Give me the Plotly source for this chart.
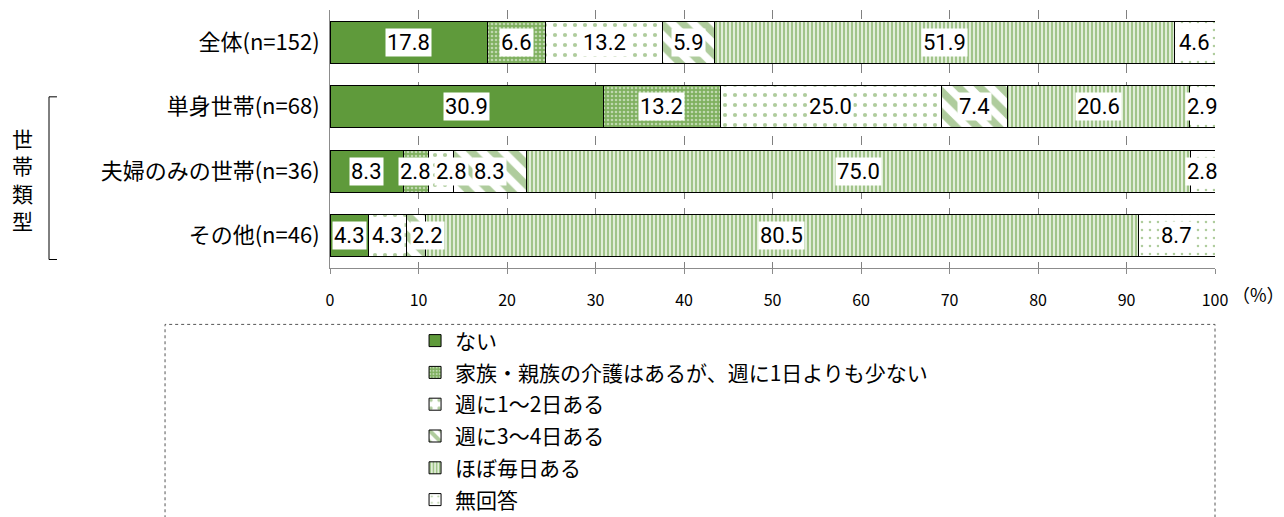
import plotly.graph_objects as go

categories = ["全体(n=152)", "単身世帯(n=68)", "夫婦のみの世帯(n=36)", "その他(n=46)"]
series_names = ["ない", "家族・親族の介護はあるが、週に1日よりも少ない", "週に1～2日ある",
                "週に3～4日ある", "ほぼ毎日ある", "無回答"]
v_nai = [17.8, 30.9, 8.3, 4.3]
v_kazoku = [6.6, 13.2, 2.8, 0.0]
v_w12 = [13.2, 25.0, 2.8, 4.3]
v_w34 = [5.9, 7.4, 8.3, 2.2]
v_daily = [51.9, 20.6, 75.0, 80.5]
v_noans = [4.6, 2.9, 2.8, 8.7]
x_ticks = [0, 10, 20, 30, 40, 50, 60, 70, 80, 90, 100]

series_values = [v_nai, v_kazoku, v_w12, v_w34, v_daily, v_noans]

G = "#5f9a3b"
FONT = "Noto Sans CJK JP"
NUMFONT = "Roboto, Liberation Sans, Noto Sans"
patterns = [
    dict(shape=""),
    dict(shape=".", fgcolor="white", bgcolor="#7fb05f", size=4, solidity=0.35),
    dict(shape=".", fgcolor=G, bgcolor="white", size=10, solidity=0.14),
    dict(shape="\\", fgcolor=G, bgcolor="white", size=15, solidity=0.5),
    dict(shape="|", fgcolor=G, bgcolor="#e2eed9", size=4, solidity=0.5),
    dict(shape=".", fgcolor=G, bgcolor="white", size=8, solidity=0.08),
]
colors = [G, "#7fb05f", "white", "white", "#e2eed9", "white"]

# small pixel nudges for crowded labels (series index, category index) -> px
label_nudge = {(2, 2): 11, (3, 3): 12}

fig = go.Figure()
for i, (name, vals) in enumerate(zip(series_names, series_values)):
    fig.add_trace(go.Bar(
        y=categories, x=vals, name=name, orientation="h",
        marker=dict(color=colors[i], pattern=patterns[i], line=dict(color="black", width=1)),
        width=0.65, legendgroup=str(i), hoverinfo="x+name",
    ))

annotations = []
for ci, cat in enumerate(categories):
    cum = 0.0
    for si, vals in enumerate(series_values):
        v = vals[ci]
        if v > 0:
            annotations.append(dict(
                x=cum + v / 2, y=cat, xref="x", yref="y", text=f"{v:.1f}",
                showarrow=False, bgcolor="white", borderpad=1,
                font=dict(family=NUMFONT, size=22, color="black"),
                xshift=label_nudge.get((si, ci), 0),
            ))
        cum += v

# percent unit
annotations.append(dict(x=1, y=0, xref="paper", yref="paper", text="（%）", showarrow=False,
                        xanchor="left", yanchor="middle", xshift=15, yshift=-25.5,
                        font=dict(family=FONT, size=18, color="black")))
# group label
annotations.append(dict(x=-0.3469, y=0.344, xref="paper", yref="paper",
                        text="世<br>帯<br>類<br>型", showarrow=False,
                        xanchor="center", yanchor="middle",
                        font=dict(family=FONT, size=21, color="black")))

shapes = [
    # bracket
    dict(type="path", xref="paper", yref="paper",
         path="M -0.3085,0.6634 L -0.3175,0.6634 L -0.3175,0.0329 L -0.3085,0.0329",
         line=dict(color="black", width=1)),
    # dotted legend frame
    dict(type="rect", xref="paper", yref="paper", x0=-0.1864, x1=1.0, y0=-1.2, y1=-0.2186,
         line=dict(color="#555555", width=1, dash="dot"), fillcolor="rgba(0,0,0,0)"),
]

fig.update_layout(
    width=1284, height=517,
    margin=dict(l=322, r=77, t=2, b=256.5, autoexpand=False),
    barmode="stack",
    plot_bgcolor="white", paper_bgcolor="white",
    font=dict(family=FONT, color="black"),
    annotations=annotations,
    shapes=shapes,
    legend=dict(x=0.0961, y=-0.2033, xanchor="left", yanchor="top", traceorder="grouped",
                tracegroupgap=1.5, font=dict(family=FONT, size=21, color="black"),
                bgcolor="rgba(0,0,0,0)", itemclick=False, itemdoubleclick=False),
    xaxis=dict(range=[0, 100], tickvals=x_ticks, ticktext=[str(t) for t in x_ticks],
               showgrid=True, gridcolor="#808080", griddash="dash", gridwidth=1,
               showline=True, linecolor="#8c8c8c", ticks="outside", ticklen=5, tickcolor="#8c8c8c",
               ticklabelstandoff=13,
               tickfont=dict(family=FONT, size=16, color="black"), zeroline=False, fixedrange=True),
    yaxis=dict(autorange="reversed", showline=True, linecolor="#8c8c8c",
               ticks="", ticklabelstandoff=5,
               tickfont=dict(family=FONT, size=22, color="black"), fixedrange=True),
    showlegend=True,
)

fig.write_html("out.html")
